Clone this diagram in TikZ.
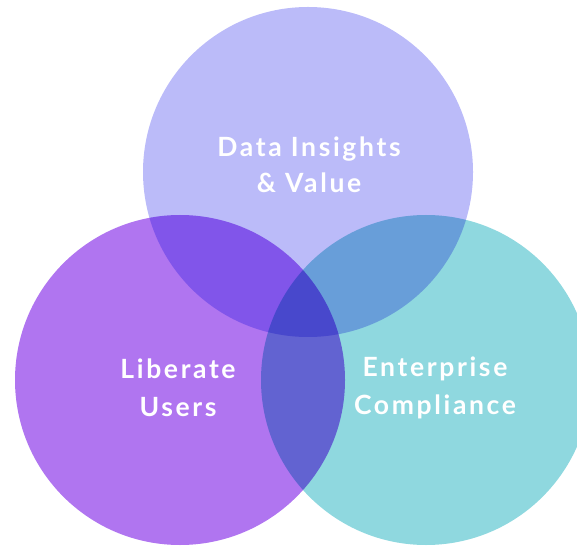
\documentclass[tikz,border=0pt]{standalone}
\usepackage{fontspec}
\setmainfont{Lato}[LetterSpace=10]
\usetikzlibrary{positioning}
\definecolor{insightlilac}{HTML}{BBBBF9}
\definecolor{userpurple}{HTML}{B075F0}
\definecolor{complyteal}{HTML}{8FD8DF}
\tikzset{
    venn/.style={circle, minimum size=330pt, inner sep=0pt},% one set of the diagram
    vennlabel/.style={text=white, align=center, font=\fontsize{26.5}{38}\selectfont\bfseries},
}

\begin{document}
\begin{tikzpicture}[x=1pt, y=1pt]
            \useasboundingbox (0,0) rectangle (577,546);
            % Sets, colours multiplied where they overlap
            \begin{scope}[blend group=multiply]
                \node[venn, fill=insightlilac] (data) at (308,374) {};
                \node[venn, fill=userpurple] (users) at (180,166) {};
                \node[venn, fill=complyteal] (comply) at (426,166) {};
            \end{scope}
            % Labels
            \node[vennlabel, font=\fontsize{26.5}{35.5}\selectfont\bfseries] (datalabel) at ([xshift=1pt, yshift=7pt]data.center) {Data Insights\\\& Value};
            \node[vennlabel] (userslabel) at ([xshift=-2pt, yshift=-8pt]users.center) {Liberate\\Users};
            \node[vennlabel] (complylabel) at ([xshift=9pt, yshift=-8pt]comply.center) {Enterprise\\Compliance};
        \end{tikzpicture}
\end{document}
